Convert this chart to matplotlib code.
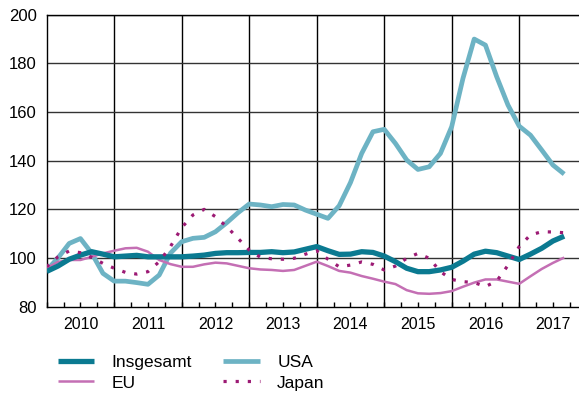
import numpy as np
import matplotlib
matplotlib.use("Agg")
import matplotlib.pyplot as plt
from matplotlib.ticker import FixedLocator, NullFormatter, FixedFormatter

plt.rcParams['font.family'] = ['Liberation Sans', 'DejaVu Sans']

# Bi-monthly index values, Jan 2010 .. Sep 2017 (decimal-year positions)
n_points = 47
t = 2010 + np.arange(n_points) / 6.0

insgesamt = [94.5, 96.7, 99.5, 101.2, 102.6, 101.6, 100.5, 100.8, 101.1, 100.5,
             100.5, 100.5, 100.5, 100.8, 101.2, 101.9, 102.2, 102.2, 102.3, 102.3,
             102.6, 102.2, 102.5, 103.6, 104.7, 103.0, 101.5, 101.6, 102.6, 102.3,
             100.8, 98.5, 95.8, 94.4, 94.4, 95.1, 96.2, 98.7, 101.6, 102.8,
             102.2, 100.8, 99.4, 101.6, 104.0, 107.0, 109.0]

usa = [95.0, 100.0, 106.0, 108.0, 102.0, 93.7, 90.5, 90.5, 89.9, 89.2,
       93.0, 102.0, 106.7, 108.1, 108.5, 110.8, 114.5, 118.6, 122.2, 121.8,
       121.1, 122.0, 121.8, 119.7, 118.0, 116.3, 121.5, 131.0, 143.0, 151.9,
       152.9, 147.1, 140.3, 136.4, 137.5, 143.0, 154.0, 173.8, 190.0, 187.5,
       174.5, 162.9, 154.2, 150.5, 144.4, 138.2, 134.5]

eu = [95.8, 98.4, 99.2, 99.2, 100.5, 101.9, 103.0, 104.0, 104.2, 102.6,
      99.2, 97.5, 96.4, 96.4, 97.4, 98.1, 97.8, 96.8, 95.8, 95.3,
      95.1, 94.7, 95.1, 96.8, 98.5, 96.7, 94.7, 94.0, 92.6, 91.5,
      90.3, 89.3, 86.8, 85.5, 85.3, 85.6, 86.4, 88.2, 89.9, 91.2,
      91.2, 90.3, 89.4, 92.5, 95.5, 98.0, 100.2]

japan = [96.4, 100.5, 102.9, 102.2, 100.3, 97.8, 95.8, 94.1, 93.4, 94.4,
         98.5, 104.7, 112.5, 117.7, 120.0, 117.0, 112.9, 108.1, 103.3, 100.3,
         99.7, 99.5, 99.9, 101.6, 103.0, 99.5, 96.4, 97.1, 98.4, 97.4,
         95.1, 96.7, 99.9, 101.9, 99.9, 94.4, 91.2, 90.3, 89.9, 88.3,
         90.5, 97.0, 104.7, 109.5, 110.8, 110.7, 110.4]

years = [2010, 2011, 2012, 2013, 2014, 2015, 2016, 2017]
y_ticks = [80, 100, 120, 140, 160, 180, 200]

C_TOTAL = '#0b7a91'
C_USA = '#6db3c4'
C_EU = '#c46fb4'
C_JAPAN = '#9c1a74'

W, H = 579, 393
fig = plt.figure(figsize=(W / 100, H / 100), dpi=100)
ax = fig.add_axes([46.7 / W, (H - 306.7) / H, 540 / W, 292 / H])

ax.set_xlim(2010, 2018)
ax.set_ylim(80, 200)

# grid: year boundaries and every 20 index points
for yb in years[1:] + [2018]:
    ax.axvline(yb, color='black', lw=1.0, zorder=1)
for yv in y_ticks[1:]:
    ax.axhline(yv, color='#333333', lw=1.0, zorder=1)

line_kw = dict(solid_capstyle='butt', solid_joinstyle='round')
ax.plot(t, usa, color=C_USA, lw=3.4, zorder=3, label='USA', **line_kw)
ax.plot(t, eu, color=C_EU, lw=1.8, zorder=4, label='EU', **line_kw)
ax.plot(t, insgesamt, color=C_TOTAL, lw=3.8, zorder=5, label='Insgesamt', **line_kw)
ax.plot(t, japan, color=C_JAPAN, lw=2.3, linestyle=(0, (1, 2.8)), zorder=6, label='Japan')

ax.spines['right'].set_visible(False)
for side in ('left', 'bottom', 'top'):
    ax.spines[side].set_linewidth(1.0)
    ax.spines[side].set_color('black')

# year labels centred (with a tick), plus remaining quarter ticks inside
ax.xaxis.set_major_locator(FixedLocator([y + 0.5 for y in years]))
ax.xaxis.set_major_formatter(FixedFormatter([str(y) for y in years]))
ax.tick_params(axis='x', which='major', direction='in', length=3.6, width=1.0,
               color='black', pad=7.5, labelsize=11.5)
quarters = [y + q / 4 for y in years for q in (0, 1, 3)]
ax.xaxis.set_minor_locator(FixedLocator(quarters))
ax.xaxis.set_minor_formatter(NullFormatter())
ax.tick_params(axis='x', which='minor', direction='in', length=3.6, width=1.0, color='black')

ax.set_yticks(y_ticks)
ax.set_yticklabels([str(v) for v in y_ticks])
ax.tick_params(axis='y', length=0, pad=7, labelsize=12)

h = {l.get_label(): l for l in ax.get_lines() if not l.get_label().startswith('_')}
order = ['Insgesamt', 'EU', 'USA', 'Japan']
fig.legend([h[k] for k in order], order, ncol=2, frameon=False,
           loc='upper left', bbox_to_anchor=(58 / W, 1 - 355 / H),
           fontsize=12.5, handlelength=2.1, handletextpad=1.0,
           columnspacing=1.8, labelspacing=0.3, borderaxespad=0, borderpad=0)

fig.savefig('out.png', dpi=100)
